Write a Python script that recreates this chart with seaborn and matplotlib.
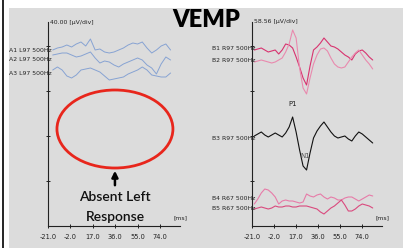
import numpy as np
import pandas as pd
import matplotlib
matplotlib.use("Agg")
import matplotlib.pyplot as plt
from matplotlib.patches import Ellipse, Rectangle
import seaborn as sns

sns.set_theme(style="white")
plt.rcParams['font.family'] = ['DejaVu Sans']

# ---------------- data ----------------
t_left = [-17, -13, -9, -5, -1, 3, 7, 11, 15, 19, 23, 27, 31, 35, 39, 43, 47, 51, 55, 59, 63, 67, 71, 75, 79, 83]
A1 = [176, 178, 179, 181, 179, 182, 184, 180, 187, 176, 177, 174, 173, 174, 176, 178, 181, 183, 182, 184, 178, 173, 176, 180, 182, 176]
A2 = [171, 172, 173, 173, 171, 169, 170, 172, 174, 168, 163, 165, 164, 161, 159, 162, 164, 166, 168, 166, 161, 158, 152, 162, 169, 166]
A3 = [156, 159, 156, 150, 148, 151, 156, 157, 158, 156, 154, 150, 146, 147, 148, 149, 152, 154, 156, 159, 156, 151, 150, 149, 149, 153]

t_right = [-19, -16, -13, -10, -7, -4, -1, 2, 5, 8, 11, 14, 17, 20, 23, 26, 29, 32, 35, 38, 41, 44, 47, 50, 53, 56, 59, 62, 65, 68, 71, 74, 77, 80, 83]
B1 = [176, 177, 178, 176, 174, 175, 176, 172, 176, 182, 181, 178, 169, 159, 148, 141, 160, 176, 179, 183, 188, 184, 180, 179, 177, 174, 171, 169, 166, 172, 175, 176, 173, 169, 166]
B2 = [164, 165, 166, 165, 164, 163, 164, 166, 168, 174, 182, 196, 188, 158, 138, 132, 148, 162, 171, 177, 178, 175, 168, 162, 159, 158, 159, 164, 169, 173, 176, 171, 166, 162, 157]
B3 = [90, 92, 94, 91, 89, 91, 93, 91, 89, 93, 99, 109, 94, 76, 60, 56, 73, 88, 95, 100, 104, 99, 94, 90, 88, 89, 90, 87, 85, 90, 94, 92, 89, 86, 83]
B4 = [22, 27, 33, 37, 36, 33, 29, 22, 25, 26, 25, 25, 24, 23, 24, 32, 30, 29, 31, 32, 29, 27, 29, 28, 26, 26, 28, 29, 29, 27, 25, 27, 29, 31, 30]
B5 = [17, 18, 19, 18, 17, 18, 20, 19, 19, 20, 20, 19, 19, 20, 20, 20, 19, 18, 17, 14, 12, 15, 18, 20, 23, 26, 21, 15, 15, 17, 20, 22, 21, 20, 18]

left_labels = ["A1 L97 500Hz", "A2 L97 500Hz", "A3 L97 500Hz"]
right_labels = ["B1 R97 500Hz", "B2 R97 500Hz", "B3 R97 500Hz", "B4 R67 500Hz", "B5 R67 500Hz"]
x_ticks = [-21.0, -2.0, 17.0, 36.0, 55.0, 74.0]
scale_left = "40.00 [\u00b5V/div]"
scale_right = "58.56 [\u00b5V/div]"
title = "VEMP"

SMALL = 4.4

# ---------------- figure ----------------
W, H = 403, 248
fig = plt.figure(figsize=(W / 100, H / 100), dpi=100)
fig.patch.set_facecolor("white")
fig.add_artist(Rectangle((9 / W, 0), 1, 1 - 8 / H, transform=fig.transFigure,
                         facecolor="#dcdcdc", edgecolor="none", zorder=0))
fig.add_artist(plt.Line2D([2.5 / W, 2.5 / W], [0, 1], transform=fig.transFigure,
                          color="black", lw=1.2, zorder=1))

def make_ax(x0px, x1px):
    ax = fig.add_axes([x0px / W, (H - 226) / H, (x1px - x0px) / W, 204 / H])
    ax.set_facecolor("none")
    ax.set_xlim(-21, 91)
    ax.set_ylim(0, 204)
    for s in ["top", "right"]:
        ax.spines[s].set_visible(False)
    for s in ["left", "bottom"]:
        ax.spines[s].set_color("#222222")
        ax.spines[s].set_linewidth(0.8)
    ax.set_xticks(x_ticks)
    ax.set_xticklabels([f"{v:.1f}" for v in x_ticks], fontsize=4.8, color="#222222")
    ax.set_yticks([45, 90, 135, 180])
    ax.set_yticklabels([])
    ax.tick_params(axis="both", direction="inout", length=3, width=0.7, color="#222222", pad=4,
                   left=True, bottom=True)
    ax.text(91, 8, "[ms]", fontsize=SMALL, ha="center", va="center", color="#222222")
    return ax

axL = make_ax(48, 180)
axR = make_ax(252, 382)

blue = "#87a3d3"
for y in [A1, A2, A3]:
    sns.lineplot(x=t_left, y=y, ax=axL, color=blue, lw=0.7)
for lab, yy in zip(left_labels, [175, 166, 152]):
    axL.text(-17.5, yy, lab, fontsize=SMALL, ha="right", va="center", color="#222222", clip_on=False)
axL.text(-19.5, 203, scale_left, fontsize=SMALL, ha="left", va="center", color="#222222")

right_cols = ["#d8336f", "#e98aae", "#111111", "#e77ba8", "#da4a7e"]
for y, c in zip([B1, B2, B3, B4, B5], right_cols):
    sns.lineplot(x=t_right, y=y, ax=axR, color=c, lw=0.8)
for lab, yy in zip(right_labels, [177, 165, 88, 28, 17]):
    axR.text(-18.4, yy, lab, fontsize=SMALL, ha="right", va="center", color="#222222", clip_on=False)
axR.text(-19.5, 204, scale_right, fontsize=SMALL, ha="left", va="center", color="#222222")
axR.text(14.1, 122, "P1", fontsize=5, ha="center", va="center", color="#222222")
axR.text(25.2, 70, "N1", fontsize=5, ha="center", va="center", color="#555555")

# ellipse, arrow, annotation
axL.add_patch(Ellipse((35.8, 97), 98.4, 78, fill=False, edgecolor="#e8261c", lw=2.0, clip_on=False))
axL.annotate("", xy=(35.8, 58), xytext=(35.8, 38),
             arrowprops=dict(arrowstyle="-|>", color="black", lw=1.8, mutation_scale=9))
axL.text(35.8, 29, "Absent Left", fontsize=10, ha="center", va="center", fontweight="semibold",
         family=["Lato", "DejaVu Sans"], color="#111111")
axL.text(35.8, 9, "Response", fontsize=10, ha="center", va="center", fontweight="semibold",
         family=["Lato", "DejaVu Sans"], color="#111111")

fig.text(206 / W, 1 - 20 / H, title, fontsize=17, fontweight="heavy", ha="center", va="center",
         family=["Lato", "DejaVu Sans"], color="black")

fig.savefig("out.png", dpi=100, facecolor="white")
